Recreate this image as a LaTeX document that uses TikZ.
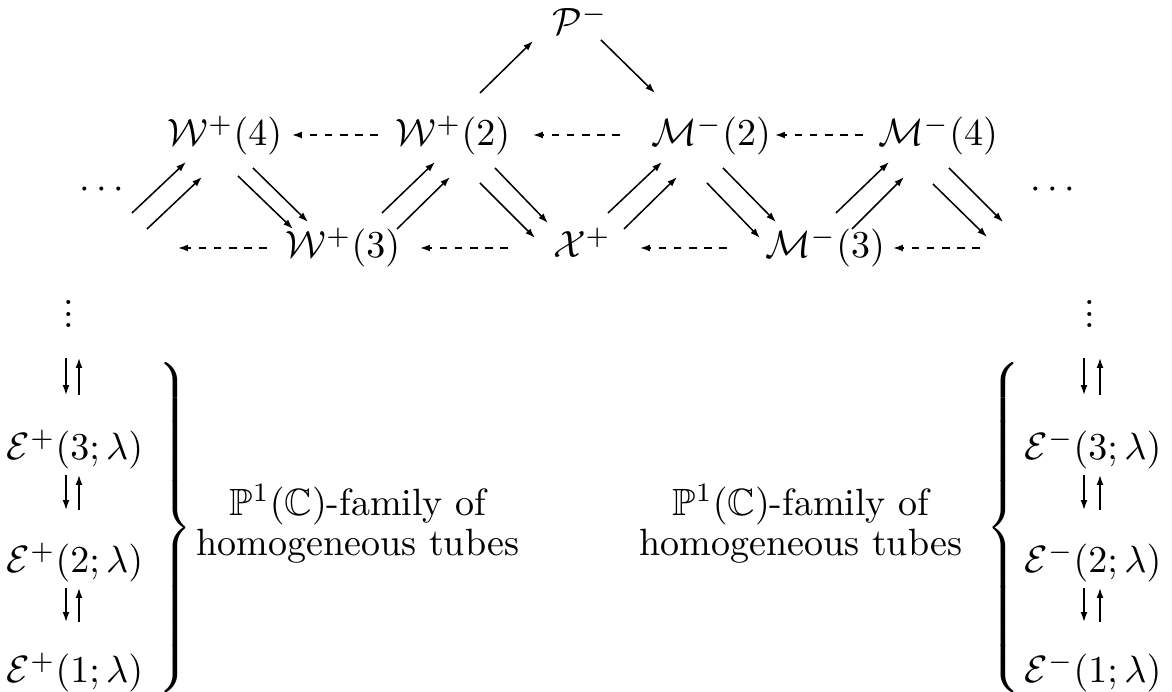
\documentclass[tikz,border=0pt]{standalone}
\usepackage{amssymb}
\usepackage{graphicx}
\usetikzlibrary{arrows.meta}
\newcommand\myvdots{\vbox{\baselineskip3.1pt\lineskiplimit0pt\hbox{.}\hbox{.}\hbox{.}}}
\newcommand\bracerbox{\scalebox{1}[1.035]{$\delimiterfactor=1000\delimitershortfall=0pt\left.\vcenter{\hrule height 84pt width 0pt}\right\}$}}
\newcommand\bracelbox{\scalebox{1}[1.035]{$\delimiterfactor=1000\delimitershortfall=0pt\left\{\vcenter{\hrule height 84pt width 0pt}\right.$}}
\tikzset{
  lbl/.style={anchor=base, inner sep=0pt, outer sep=0pt},
  arr/.style={-{Latex[length=2.6pt,width=1.8pt]}, line width=0.4pt},
  dsh/.style={arr, dash pattern=on 2pt off 2pt},
  txt/.style={anchor=center, inner sep=0pt, align=center, font=\fontsize{10}{10.5}\selectfont},
}
\begin{document}
\begin{tikzpicture}[x=0.2632pt, y=-0.2632pt]
\useasboundingbox (0,0) rectangle (1172,692);
% top nodes
\node[lbl] (P) at (580,35) {$\mathcal{P}^-$};
\node[lbl] (W4) at (225,146) {$\mathcal{W}^+(4)$};
\node[lbl] (W2) at (453,146) {$\mathcal{W}^+(2)$};
\node[lbl] (M2) at (711,146) {$\mathcal{M}^-(2)$};
\node[lbl] (M4) at (938,146) {$\mathcal{M}^-(4)$};
\node[lbl] (cdL) at (102,199) {$\cdots$};
\node[lbl] (cdR) at (1053,199) {$\cdots$};
\node[lbl] (W3) at (343,258) {$\mathcal{W}^+(3)$};
\node[lbl] (X) at (582,258) {$\mathcal{X}^+$};
\node[lbl] (M3) at (825,258) {$\mathcal{M}^-(3)$};
\coordinate (offL) at (178,248);
\coordinate (offR) at (980,248);
% diagonal arrows
\draw[arr] ([shift={(30,14)}]cdL.base) -- ([shift={(-39,16)}]W4.base);
\draw[arr] ([shift={(45,30)}]cdL.base) -- ([shift={(-23,31)}]W4.base);
\draw[arr] ([shift={(13,30)}]W4.base) -- ([shift={(-50,-29)}]W3.base);
\draw[arr] ([shift={(28,22)}]W4.base) -- ([shift={(-35,-36)}]W3.base);
\draw[arr] ([shift={(39,-45)}]W3.base) -- ([shift={(-18,16)}]W2.base);
\draw[arr] ([shift={(54,-29)}]W3.base) -- ([shift={(-3,31)}]W2.base);
\draw[arr] ([shift={(27,37)}]W2.base) -- ([shift={(-47,-20)}]X.base);
\draw[arr] ([shift={(42,22)}]W2.base) -- ([shift={(-34,-35)}]X.base);
\draw[arr] ([shift={(27,-53)}]W2.base) -- ([shift={(-47,6)}]P.base);
\draw[arr] ([shift={(21,5)}]P.base) -- ([shift={(-56,-53)}]M2.base);
\draw[arr] ([shift={(26,-45)}]X.base) -- ([shift={(-49,16)}]M2.base);
\draw[arr] ([shift={(42,-29)}]X.base) -- ([shift={(-34,31)}]M2.base);
\draw[arr] ([shift={(-4,37)}]M2.base) -- ([shift={(-65,-20)}]M3.base);
\draw[arr] ([shift={(12,22)}]M2.base) -- ([shift={(-49,-36)}]M3.base);
\draw[arr] ([shift={(11,-45)}]M3.base) -- ([shift={(-49,16)}]M4.base);
\draw[arr] ([shift={(27,-29)}]M3.base) -- ([shift={(-34,31)}]M4.base);
\draw[arr] ([shift={(-5,38)}]M4.base) -- ([shift={(-66,38)}]cdR.base);
\draw[arr] ([shift={(11,22)}]M4.base) -- ([shift={(-50,23)}]cdR.base);
% dashed arrows
\draw[dsh] ([shift={(-75,-11)}]W2.base) -- ([shift={(67,-11)}]W4.base);
\draw[dsh] ([shift={(-91,-11)}]M2.base) -- ([shift={(80,-11)}]W2.base);
\draw[dsh] ([shift={(-75,-11)}]M4.base) -- ([shift={(64,-11)}]M2.base);
\draw[dsh] ([shift={(-76,-10)}]W3.base) -- (offL);
\draw[dsh] ([shift={(-74,-10)}]X.base) -- ([shift={(77,-10)}]W3.base);
\draw[dsh] ([shift={(-98,-10)}]M3.base) -- ([shift={(58,-10)}]X.base);
\draw[dsh] (offR) -- ([shift={(68,-10)}]M3.base);
% left column
\node[lbl] (vdL) at (69,328) {\myvdots};
\node[lbl] (E3L) at (75,460) {$\mathcal{E}^+(3;\lambda)$};
\node[lbl] (E2L) at (75,573) {$\mathcal{E}^+(2;\lambda)$};
\node[lbl] (E1L) at (75,683) {$\mathcal{E}^+(1;\lambda)$};
\draw[arr] ([shift={(-3,30)}]vdL.base) -- ([shift={(-9,-65)}]E3L.base);
\draw[arr] ([shift={(4,-65)}]E3L.base) -- ([shift={(10,30)}]vdL.base);
\draw[arr] ([shift={(-9,15)}]E3L.base) -- ([shift={(-9,-63)}]E2L.base);
\draw[arr] ([shift={(4,-63)}]E2L.base) -- ([shift={(4,15)}]E3L.base);
\draw[arr] ([shift={(-9,15)}]E2L.base) -- ([shift={(-9,-61)}]E1L.base);
\draw[arr] ([shift={(4,-61)}]E1L.base) -- ([shift={(4,15)}]E2L.base);
% right column
\node[lbl] (vdR) at (1090,328) {\myvdots};
\node[lbl] (E3R) at (1093,460) {$\mathcal{E}^-(3;\lambda)$};
\node[lbl] (E2R) at (1093,573) {$\mathcal{E}^-(2;\lambda)$};
\node[lbl] (E1R) at (1093,683) {$\mathcal{E}^-(1;\lambda)$};
\draw[arr] ([shift={(-6,30)}]vdR.base) -- ([shift={(-9,-65)}]E3R.base);
\draw[arr] ([shift={(7,-65)}]E3R.base) -- ([shift={(10,30)}]vdR.base);
\draw[arr] ([shift={(-9,15)}]E3R.base) -- ([shift={(-9,-63)}]E2R.base);
\draw[arr] ([shift={(7,-63)}]E2R.base) -- ([shift={(7,15)}]E3R.base);
\draw[arr] ([shift={(-9,15)}]E2R.base) -- ([shift={(-9,-61)}]E1R.base);
\draw[arr] ([shift={(7,-61)}]E1R.base) -- ([shift={(7,15)}]E2R.base);
% braces and texts
\node[anchor=center, inner sep=0pt] (brL) at (173,528) {\bracerbox};
\node[anchor=center, inner sep=0pt] (brR) at (1006,528) {\bracelbox};
\node[txt] (tL) at (358,524) {$\mathbb{P}^1(\mathbb{C})$-family of\\homogeneous tubes};
\node[txt] (tR) at (801,524) {$\mathbb{P}^1(\mathbb{C})$-family of\\homogeneous tubes};
\end{tikzpicture}
\end{document}
